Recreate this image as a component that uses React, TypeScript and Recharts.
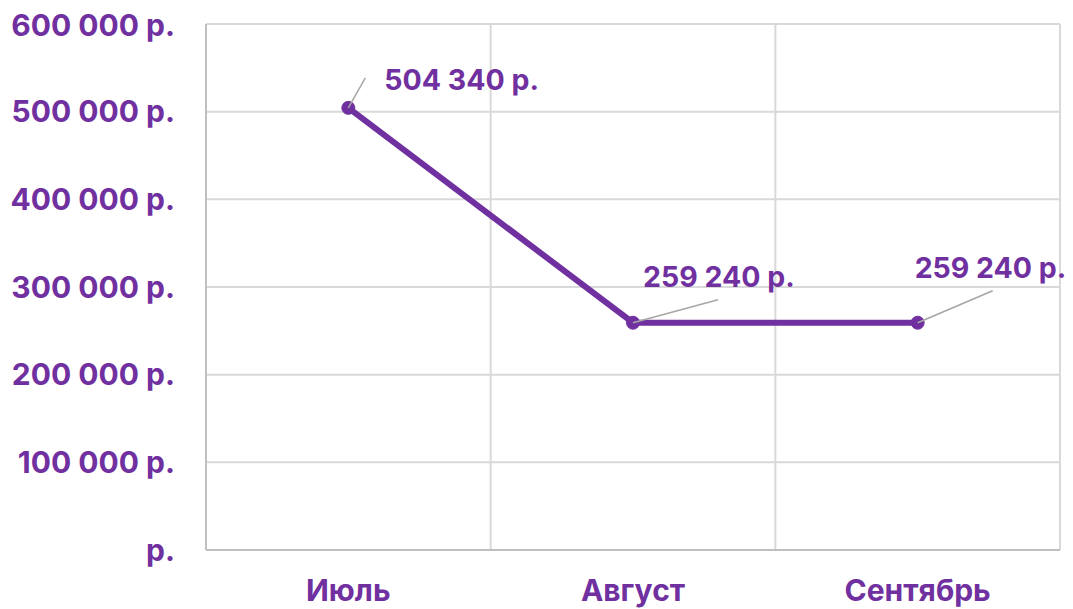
import React from "react";
import {
  LineChart,
  Line,
  XAxis,
  YAxis,
  CartesianGrid,
  LabelList,
} from "recharts";

const months = ["Июль", "Август", "Сентябрь"];
const revenue = [504340, 259240, 259240];
const yTicks = [0, 100000, 200000, 300000, 400000, 500000, 600000];

// leader line end + text position relative to each point
const labelOffsets = [
  { lx: 17, ly: -30, tx: 36, ty: -28 },
  { lx: 85, ly: -23, tx: 10, ty: -46 },
  { lx: 75, ly: -32, tx: -3, ty: -55 },
];

const PURPLE = "#7030a0";
const FONT = "Inter, 'Open Sans', sans-serif";
const FS = 30;

const chartData = months.map((m, i) => ({ month: m, value: revenue[i] }));

const rub = (v: number) => {
  if (v === 0) return "р.";
  return v.toString().replace(/\B(?=(\d{3})+(?!\d))/g, " ") + " р.";
};

const PointLabel = (props: any) => {
  const { x, y, value, index } = props;
  const o = labelOffsets[index] || labelOffsets[0];
  return (
    <g>
      <line
        x1={x}
        y1={y}
        x2={x + o.lx}
        y2={y + o.ly}
        stroke="#a6a6a6"
        strokeWidth={1.5}
      />
      <text
        x={x + o.tx}
        y={y + o.ty}
        dominantBaseline="central"
        fill={PURPLE}
        fontSize={28.5}
        fontWeight={700}
        fontFamily={FONT}
      >
        {rub(value)}
      </text>
    </g>
  );
};

export default function App() {
  return (
    <div style={{ width: 1065, height: 601, background: "#fff" }}>
      <LineChart
        width={1065}
        height={601}
        data={chartData}
        margin={{ top: 16, right: 13, bottom: 0, left: 0 }}
      >
        <CartesianGrid
          stroke="#d9d9d9"
          strokeWidth={2}
          verticalCoordinatesGenerator={({ offset }: any) => [
            offset.left + offset.width / 3,
            offset.left + (offset.width * 2) / 3,
            offset.left + offset.width,
          ]}
        />
        <XAxis
          dataKey="month"
          scale="band"
          height={59}
          tickSize={0}
          tickMargin={30}
          axisLine={{ stroke: "#bfbfbf", strokeWidth: 2 }}
          tick={{ fill: PURPLE, fontSize: FS, fontWeight: 700, fontFamily: FONT }}
        />
        <YAxis
          width={198}
          domain={[0, 600000]}
          ticks={yTicks}
          tickSize={0}
          tickMargin={31}
          tickFormatter={rub}
          axisLine={{ stroke: "#bfbfbf", strokeWidth: 2 }}
          tick={{ fill: PURPLE, fontSize: FS, fontWeight: 700, fontFamily: FONT }}
        />
        <Line
          dataKey="value"
          stroke={PURPLE}
          strokeWidth={6}
          dot={{ r: 6.5, fill: PURPLE, stroke: PURPLE, strokeWidth: 1 }}
          isAnimationActive={false}
        >
          <LabelList dataKey="value" content={PointLabel} />
        </Line>
      </LineChart>
    </div>
  );
}
